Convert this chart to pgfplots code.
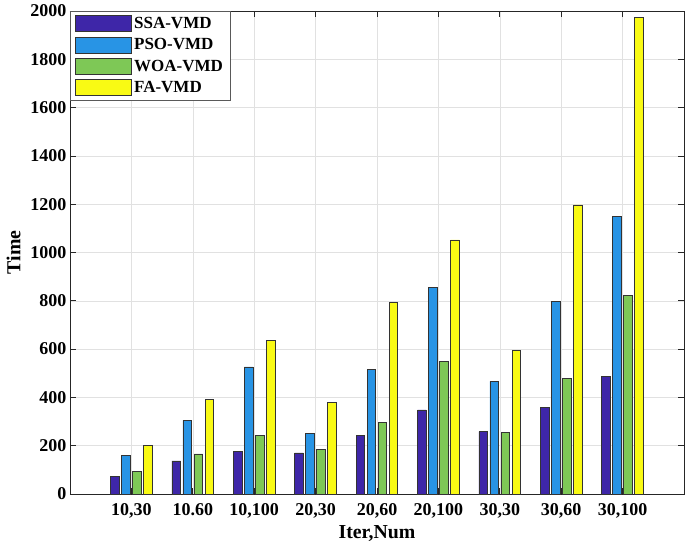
\documentclass[border=0pt]{standalone}
\usepackage{pgfplots}
\pgfplotsset{compat=1.18}
\usepackage{fontspec}
\setmainfont{Liberation Serif}
\definecolor{cSSA}{RGB}{62,38,168}
\definecolor{cPSO}{RGB}{40,148,229}
\definecolor{cWOA}{RGB}{126,200,86}
\definecolor{cFA}{RGB}{249,250,20}
\definecolor{axgray}{RGB}{38,38,38}
\definecolor{gridgray}{RGB}{225,225,225}
\begin{document}
\begin{tikzpicture}
\path[use as bounding box] (-70pt,-58pt) rectangle (615pt,494pt);
\begin{axis}[name=ax, at={(0,0)}, anchor=south west,
 scale only axis, width=614pt, height=483pt,
 xmin=0, xmax=10, ymin=0, ymax=2000,
 ybar, bar width=0.14,
 xtick={1,...,9},
 xticklabels={{10,30},{10.60},{10,100},{20,30},{20,60},{20,100},{30,30},{30,60},{30,100}},
 ytick={0,200,...,2000},
 grid=major, major grid style={gridgray, line width=0.6pt},
 axis line style={axgray, line width=0.7pt},
 tick style={axgray, line width=0.7pt},
 tick align=inside, major tick length=6pt,
 xtick pos=both, ytick pos=both,
 /pgf/number format/assume math mode=true,
 /pgf/number format/1000 sep={},
 ticklabel style={font=\bfseries\fontsize{18}{20}\selectfont},
 xticklabel style={yshift=-6pt},
 label style={font=\bfseries\fontsize{19.8}{22}\selectfont},
 ylabel shift=3pt,
 xlabel={Iter,Num}, ylabel={Time},
 legend style={at={(0,1)}, anchor=north west, draw=gray!70!black, line width=0.7pt,
   font=\bfseries\fontsize{17}{19}\selectfont, inner xsep=5pt, inner ysep=4pt, row sep=4.5pt},
 legend image code/.code={\draw[#1] (0pt,-8pt) rectangle (56pt,8pt);},
 legend cell align=left,
]
\addplot[fill=cSSA, draw=black!80, line width=0.8pt, bar shift=-0.27] coordinates {(1,73) (2,137) (3,178) (4,170) (5,244) (6,348) (7,258) (8,359) (9,487)};
\addplot[fill=cPSO, draw=black!80, line width=0.8pt, bar shift=-0.09] coordinates {(1,161) (2,305) (3,526) (4,252) (5,516) (6,854) (7,466) (8,799) (9,1148)};
\addplot[fill=cWOA, draw=black!80, line width=0.8pt, bar shift=0.09] coordinates {(1,92) (2,166) (3,243) (4,186) (5,295) (6,549) (7,254) (8,480) (9,823)};
\addplot[fill=cFA, draw=black!80, line width=0.8pt, bar shift=0.27] coordinates {(1,200) (2,393) (3,634) (4,378) (5,792) (6,1052) (7,593) (8,1197) (9,1974)};
\legend{SSA-VMD,PSO-VMD,WOA-VMD,FA-VMD}
\end{axis}
\end{tikzpicture}
\end{document}
